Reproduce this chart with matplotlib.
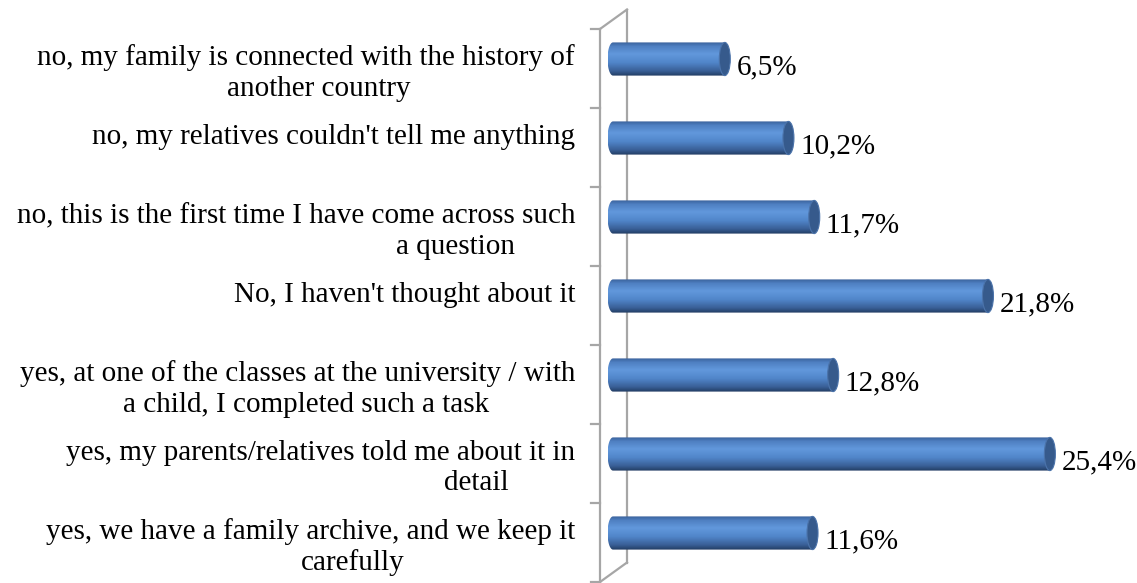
import numpy as np
import matplotlib.pyplot as plt
from matplotlib.patches import Polygon, Ellipse
from matplotlib.colors import LinearSegmentedColormap

# data (top to bottom as in the chart)
categories = [
    "no, my family is connected with the history of\nanother country",
    "no, my relatives couldn't tell me anything",
    "no, this is the first time I have come across such\na question",
    "No, I haven't thought about it",
    "yes, at one of the classes at the university / with\na child, I completed such a task",
    "yes, my parents/relatives told me about it in\ndetail",
    "yes, we have a family archive, and we keep it\ncarefully",
]
values = [6.5, 10.2, 11.7, 21.8, 12.8, 25.4, 11.6]
value_labels = ['6,5%', '10,2%', '11,7%', '21,8%', '12,8%', '25,4%', '11,6%']
# x centre (pixels) of wrapped second lines, as they sit in the original
second_line_x = [319, None, 455, None, 306, 476, 353]

W, H = 1137, 583
X0, SX = 613, 17.2      # pixel of 0 %, pixels per %
Y0, SY = 59, 79         # pixel of first bar centre, pixels per category
FS = 21

def vx(px):
    return (px - X0) / SX

def vy(py):
    return (py - Y0) / SY

plt.rcParams['font.family'] = ['Liberation Serif', 'DejaVu Serif']
fig = plt.figure(figsize=(W / 100, H / 100), dpi=100)
ax = fig.add_axes([0, 0, 1, 1])
ax.axis('off')
ax.set_xlim(vx(0), vx(W))
ax.set_ylim(vy(H), vy(0))

n = len(values)
grey = '#a6a6a6'
front_x, back_x = vx(600), vx(627)
depth = 19.5 / SY
b0 = vy(29)
b1 = b0 + n

# back wall line and floor/top slants
ax.plot([back_x, back_x], [b0 - depth, b1 - depth], color=grey, lw=1.6, zorder=1)
ax.plot([front_x, back_x], [b0, b0 - depth], color=grey, lw=1.6, zorder=1)
ax.plot([front_x, back_x], [b1, b1 - depth], color=grey, lw=1.6, zorder=1)
ax.plot([front_x, front_x], [b0, b1], color=grey, lw=1.6, zorder=1)
for k in range(n + 1):
    ax.plot([vx(591), front_x], [b0 + k, b0 + k], color=grey, lw=1.6, zorder=1)

cmap = LinearSegmentedColormap.from_list('cyl', [
    (0.0, '#3a629c'), (0.12, '#4f80c2'), (0.35, '#6298dc'),
    (0.6, '#5186ca'), (0.85, '#3a6098'), (1.0, '#223d63')])
grad = np.linspace(0, 1, 64).reshape(-1, 1)

bh = 0.42
semi = 5.5 / SX
t = np.linspace(np.pi / 2, 3 * np.pi / 2, 40)
for i, v in enumerate(values):
    yc = i
    left = np.column_stack([semi * np.cos(t), yc - bh / 2 * np.sin(t)])
    verts = np.vstack([left, [[v, yc + bh / 2], [v, yc - bh / 2]]])
    clip = Polygon(verts, closed=True, facecolor='none', edgecolor='none')
    ax.add_patch(clip)
    im = ax.imshow(grad, cmap=cmap, aspect='auto', origin='upper',
                   extent=(-semi, v, yc + bh / 2, yc - bh / 2), zorder=2)
    im.set_clip_path(clip)
    cap = Ellipse((v, yc), 2 * semi, bh, facecolor='#365a8c',
                  edgecolor='#4b73aa', lw=0.8, zorder=3)
    ax.add_patch(cap)
    ax.text(v + 11.5 / SX, yc + 15 / SY, value_labels[i], fontsize=FS,
            ha='left', va='baseline', color='black', zorder=4)

for i, lab in enumerate(categories):
    lines = lab.split('\n')
    ax.text(vx(575), i + 6 / SY, lines[0], fontsize=FS, ha='right',
            va='baseline', color='black')
    if len(lines) > 1:
        ax.text(vx(second_line_x[i]), i + 36.5 / SY, lines[1], fontsize=FS,
                ha='center', va='baseline', color='black')

fig.savefig('out.png', dpi=100)
